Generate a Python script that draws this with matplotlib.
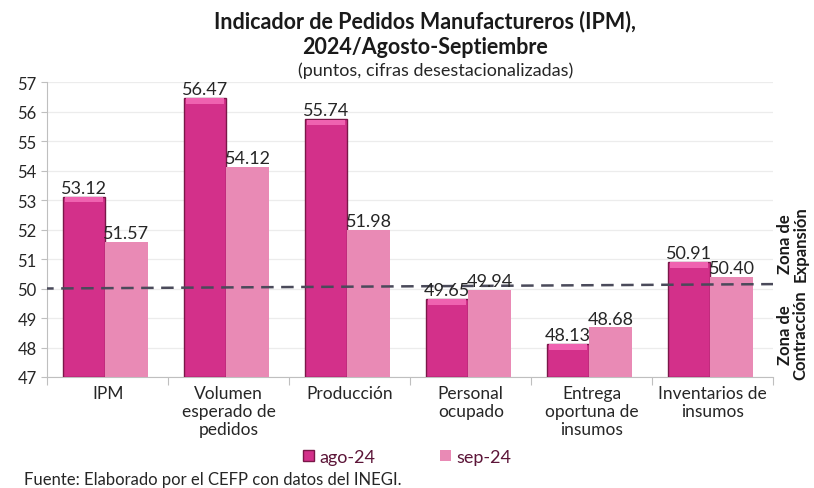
#!/usr/bin/env python3
"""Indicador de Pedidos Manufactureros (IPM), agosto-septiembre 2024."""

import matplotlib.pyplot as plt
import numpy as np

categorias = [
    "IPM",
    "Volumen\nesperado de\npedidos",
    "Producción",
    "Personal\nocupado",
    "Entrega\noportuna de\ninsumos",
    "Inventarios de\ninsumos",
]
ago_24 = [53.12, 56.47, 55.74, 49.65, 48.13, 50.91]
sep_24 = [51.57, 54.12, 51.98, 49.94, 48.68, 50.40]
umbral = 50

plt.rcParams.update(
    {
        "font.family": ["Lato", "DejaVu Sans"],
        "font.size": 12,
        "figure.facecolor": "white",
        "axes.facecolor": "white",
    }
)

color_ago = "#D3308A"
color_ago_borde = "#7A1748"
color_ago_tapa = "#EF62B0"
color_sep = "#E98AB5"
texto = "#262626"

fig = plt.figure(figsize=(8.14, 4.89), dpi=100)
ax = fig.add_axes([0.058, 0.227, 0.892, 0.603])

x = np.arange(len(categorias))
ancho = 0.35
pos_ago = x - ancho / 2 - 0.02
pos_sep = x + ancho / 2 - 0.02

base = 47
ax.bar(pos_ago, np.array(ago_24) - base, ancho, bottom=base, color=color_ago,
       edgecolor=color_ago_borde, linewidth=1.0, zorder=3)
# tapa biselada en la parte superior
ax.bar(pos_ago, [0.18] * len(ago_24), ancho * 0.9, bottom=np.array(ago_24) - 0.2,
       color=color_ago_tapa, linewidth=0, zorder=4)
ax.bar(pos_sep, np.array(sep_24) - base, ancho, bottom=base, color=color_sep,
       linewidth=0, zorder=3)

for xi, v in zip(pos_ago, ago_24):
    ax.text(xi, v + 0.03, f"{v:.2f}", ha="center", va="bottom", fontsize=13,
            color=texto, zorder=6)
for xi, v in zip(pos_sep, sep_24):
    ax.text(xi, v + 0.03, f"{v:.2f}", ha="center", va="bottom", fontsize=13,
            color=texto, zorder=6)

# umbral de 50 puntos
ax.plot([-0.55, 5.5], [umbral, umbral + 0.15], linestyle=(0, (5, 3)),
        color="#4a4a5a", linewidth=1.8, zorder=5)

ax.set_xlim(-0.5, 5.5)
ax.set_ylim(47, 57)
ax.set_yticks(range(47, 58))
ax.tick_params(axis="y", length=4, color="#bfbfbf", labelsize=12, labelcolor=texto)
ax.set_xticks(np.arange(-0.5, 6, 1), minor=False)
ax.set_xticklabels([])
ax.set_xticks(x, minor=True)
ax.set_xticklabels(categorias, minor=True, fontsize=12.5, color=texto, va="top",
                   linespacing=1.15)
ax.tick_params(axis="x", which="major", length=6, color="#bfbfbf")
ax.tick_params(axis="x", which="minor", length=0, pad=6)
ax.grid(axis="y", color="#ececec", linewidth=0.9, zorder=0)
for lado in ["top", "right"]:
    ax.spines[lado].set_visible(False)
ax.spines["left"].set_color("#bfbfbf")
ax.spines["bottom"].set_color("#bfbfbf")

fig.text(0.522, 0.955, "Indicador de Pedidos Manufactureros (IPM),", ha="center",
         va="center", fontsize=15.5, fontweight="bold", color="#1a1a1a")
fig.text(0.522, 0.903, "2024/Agosto-Septiembre", ha="center", va="center",
         fontsize=15.5, fontweight="bold", color="#1a1a1a")
fig.text(0.535, 0.856, "(puntos, cifras desestacionalizadas)", ha="center",
         va="center", fontsize=13, color=texto)

fig.text(0.974, 0.50, "Zona de\nExpansión", rotation=90, ha="center", va="center",
         fontsize=12, fontweight="bold", color="#1a1a1a", linespacing=1.0)
fig.text(0.974, 0.315, "Zona de\nContracción", rotation=90, ha="center",
         va="center", fontsize=12, fontweight="bold", color="#1a1a1a",
         linespacing=1.0)

h1 = plt.Rectangle((0, 0), 1, 1, facecolor=color_ago, edgecolor=color_ago_borde)
h2 = plt.Rectangle((0, 0), 1, 1, facecolor=color_sep)
fig.legend([h1, h2], ["ago-24", "sep-24"], loc="center", bbox_to_anchor=(0.5, 0.064),
           ncol=2, frameon=False, fontsize=13, handlelength=0.6, handleheight=0.6,
           handletextpad=0.3, columnspacing=3.6, labelcolor="#5c1538")

fig.text(0.03, 0.018, "Fuente: Elaborado por el CEFP con datos del INEGI.",
         ha="left", va="center", fontsize=12, color=texto)

fig.savefig("out.png", dpi=100)
